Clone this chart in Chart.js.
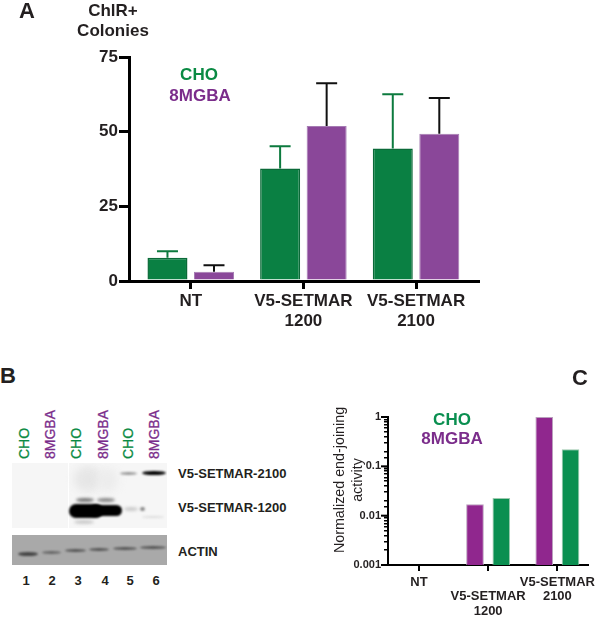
<!DOCTYPE html>
<html>
<head>
<meta charset="utf-8">
<script src="https://cdn.jsdelivr.net/npm/chart.js@4"></script>
<style>
  html, body { margin: 0; padding: 0; background: #fff; }
  #page { position: relative; width: 600px; height: 622px; overflow: hidden; font-family: "Liberation Sans", Arial, sans-serif; color: #231f20; }
  canvas { position: absolute; }
  .t { position: absolute; white-space: nowrap; line-height: 1; }
  .b { font-weight: bold; }
  .c { transform: translate(-50%, -50%); text-align: center; }
  .green { color: #0a8a43; }
  .purple { color: #7b2d8b; }
  .blot { position: absolute; overflow: hidden; }
  .band { position: absolute; border-radius: 50%; }
</style>
</head>
<body>
<div id="page">
  <canvas id="chartA"></canvas>
  <canvas id="chartC"></canvas>

  <div class="t b c" style="left:27px;top:11px;font-size:22px">A</div>
  <div class="t b c" style="left:8px;top:376px;font-size:22px">B</div>
  <div class="t b c" style="left:580px;top:378px;font-size:22px">C</div>

  <div class="t b c" style="left:113px;top:10px;font-size:17px">ChlR+</div>
  <div class="t b c" style="left:113px;top:30px;font-size:17px">Colonies</div>
  <div class="t b c green" style="left:199px;top:74px;font-size:17px">CHO</div>
  <div class="t b c purple" style="left:200px;top:95px;font-size:17px">8MGBA</div>

  <div class="t b c" style="left:452px;top:419px;font-size:17px;color:#0a8f50">CHO</div>
  <div class="t b c" style="left:452px;top:438px;font-size:17px;color:#7b2d8b">8MGBA</div>
  <div class="t c" style="left:339px;top:480px;font-size:14.3px;transform:translate(-50%,-50%) rotate(-90deg)">Normalized end-joining</div>
  <div class="t c" style="left:357px;top:480px;font-size:14.3px;transform:translate(-50%,-50%) rotate(-90deg)">activity</div>

  <div id="laneLabels"></div>

  <div class="blot" style="left:12px;top:463px;width:155px;height:65px;background:#f6f6f6">
    <div style="position:absolute;left:56px;top:0;width:1px;height:65px;background:#fff"></div>
    <div class="band" style="left:62px;top:3px;width:28px;height:26px;background:#e6e6e6;filter:blur(4px)"></div>
    <div class="band" style="left:86px;top:5px;width:20px;height:24px;background:#ececec;filter:blur(4px)"></div>
    <div class="band" style="left:57px;top:41px;width:34px;height:14px;background:#000;filter:blur(1.2px);border-radius:7px"></div>
    <div class="band" style="left:78px;top:42px;width:32px;height:11px;background:#000;filter:blur(1.2px);border-radius:6px"></div>
    <div class="band" style="left:64px;top:35px;width:18px;height:4px;background:#777;filter:blur(1.5px)"></div>
    <div class="band" style="left:85px;top:35px;width:18px;height:4px;background:#888;filter:blur(1.5px)"></div>
    <div class="band" style="left:108px;top:9px;width:17px;height:3px;background:#999;filter:blur(1px)"></div>
    <div class="band" style="left:130px;top:8px;width:24px;height:4px;background:#000;filter:blur(.8px)"></div>
    <div class="band" style="left:112px;top:44px;width:14px;height:4px;background:#ccc;filter:blur(1.5px)"></div>
    <div class="band" style="left:128px;top:44px;width:5px;height:4px;background:#888;filter:blur(1px)"></div>
    <div class="band" style="left:62px;top:57px;width:20px;height:4px;background:#ccc;filter:blur(1.5px)"></div>
    <div class="band" style="left:130px;top:53px;width:22px;height:2px;background:#ddd;filter:blur(1px)"></div>
  </div>
  <div class="blot" style="left:12px;top:535px;width:155px;height:30px;background:#a9a9a9">
    <div class="band" style="left:6px;top:17px;width:20px;height:4px;background:#444;filter:blur(1px)"></div>
    <div class="band" style="left:30px;top:16px;width:19px;height:3px;background:#666;filter:blur(1px)"></div>
    <div class="band" style="left:53px;top:14px;width:21px;height:3px;background:#555;filter:blur(1px)"></div>
    <div class="band" style="left:77px;top:13px;width:20px;height:3px;background:#555;filter:blur(1px)"></div>
    <div class="band" style="left:101px;top:12px;width:24px;height:3px;background:#555;filter:blur(1px)"></div>
    <div class="band" style="left:128px;top:11px;width:26px;height:3px;background:#555;filter:blur(1px)"></div>
  </div>

  <div class="t b" style="left:178px;top:467px;font-size:13px">V5-SETMAR-2100</div>
  <div class="t b" style="left:178px;top:501px;font-size:13px">V5-SETMAR-1200</div>
  <div class="t b" style="left:178px;top:545px;font-size:13px">ACTIN</div>
</div>

<script>
// panel A
const categoriesA = ['NT', ['V5-SETMAR', '1200'], ['V5-SETMAR', '2100']];
const choColonies = [7.8, 37.7, 44.4];
const choColoniesTop = [10, 45.1, 62.5];
const mgbaColonies = [3.1, 51.9, 49.3];
const mgbaColoniesTop = [5.3, 66.2, 61.3];
const ticksA = [0, 25, 50, 75];

// panel C, staggered labels in the original
const categoriesC = ['NT', ['', 'V5-SETMAR', '1200'], ['V5-SETMAR', '2100']];
const mgbaActivity = [null, 0.017, 1];
const choActivity = [null, 0.0228, 0.221];
const ticksC = [0.001, 0.01, 0.1, 1];

// panel B
const laneNames = ['CHO', '8MGBA', 'CHO', '8MGBA', 'CHO', '8MGBA'];
const laneNumbers = ['1', '2', '3', '4', '5', '6'];

const laneX = [24, 50, 76, 103, 128, 154];
const laneBox = document.getElementById('laneLabels');
laneNames.forEach(function(name, i) {
  const d = document.createElement('div');
  d.className = 't';
  d.textContent = name;
  d.style.fontSize = '14px';
  d.style.color = name === 'CHO' ? '#0a8a43' : '#7b2d8b';
  d.style.webkitTextStroke = '0.3px';
  d.style.left = laneX[i] + 'px';
  d.style.top = '459px';
  d.style.transformOrigin = '0 0';
  d.style.transform = 'rotate(-90deg) translateY(-50%)';
  laneBox.appendChild(d);
  const n = document.createElement('div');
  n.className = 't b c';
  n.textContent = laneNumbers[i];
  n.style.fontSize = '13px';
  n.style.left = (laneX[i] + 2) + 'px';
  n.style.top = '580px';
  laneBox.appendChild(n);
});

// error bars only go up, whisker colour follows the dataset
const errorBars = {
  id: 'errorBars',
  afterDatasetsDraw(chart) {
    const ctx = chart.ctx;
    const y = chart.scales.y;
    chart.data.datasets.forEach(function(ds, d) {
      if (!ds.tops) return;
      chart.getDatasetMeta(d).data.forEach(function(bar, i) {
        const top = y.getPixelForValue(ds.tops[i]);
        ctx.save();
        ctx.strokeStyle = ds.whisker;
        ctx.lineWidth = 2;
        ctx.beginPath();
        ctx.moveTo(bar.x, bar.y);
        ctx.lineTo(bar.x, top);
        ctx.moveTo(bar.x - 10.5, top);
        ctx.lineTo(bar.x + 10.5, top);
        ctx.stroke();
        ctx.restore();
      });
    });
  }
};

// decade ticks on the log axis stick out further than the minor ones
const longDecades = {
  id: 'longDecades',
  afterDraw(chart) {
    const ctx = chart.ctx;
    const y = chart.scales.y;
    ctx.save();
    ctx.strokeStyle = '#000';
    ctx.lineWidth = 2;
    ticksC.forEach(function(v) {
      const p = y.getPixelForValue(v);
      ctx.beginPath();
      ctx.moveTo(y.right, p);
      ctx.lineTo(y.right - 7, p);
      ctx.stroke();
    });
    ctx.restore();
  }
};

function xy(values) {
  return values.map(function(v, i) { return { x: i + 1, y: v }; });
}

function threeTicks(scale) {
  scale.ticks = [{ value: 1 }, { value: 2 }, { value: 3 }];
}

function sizeCanvas(id, left, top, w, h) {
  const c = document.getElementById(id);
  c.width = w;
  c.height = h;
  c.style.left = left + 'px';
  c.style.top = top + 'px';
  c.style.width = w + 'px';
  c.style.height = h + 'px';
  return c;
}

Chart.defaults.font.family = '"Liberation Sans", Arial, sans-serif';
Chart.defaults.color = '#231f20';

new Chart(sizeCanvas('chartA', 0, 0, 600, 340), {
  type: 'bar',
  data: {
    datasets: [
      { data: xy(choColonies), tops: choColoniesTop, whisker: '#0c7a3e', backgroundColor: '#0a8043', borderColor: '#0b6a38', borderWidth: 1.5, barPercentage: 0.86, categoryPercentage: 0.826 },
      { data: xy(mgbaColonies), tops: mgbaColoniesTop, whisker: '#111', backgroundColor: '#8a4799', borderColor: '#a57bb3', borderWidth: 1, barPercentage: 0.86, categoryPercentage: 0.826 }
    ]
  },
  plugins: [errorBars],
  options: {
    responsive: false,
    animation: false,
    layout: { padding: { left: 0, top: 57, right: 122, bottom: 0 } },
    plugins: { legend: { display: false }, tooltip: { enabled: false } },
    scales: {
      x: {
        type: 'linear',
        offset: false,
        min: 0.452,
        max: 3.55,
        afterBuildTicks: threeTicks,
        afterFit(scale) { scale.height = 59; },
        border: { color: '#000', width: 3 },
        grid: { display: true, offset: false, drawOnChartArea: false, color: '#000', lineWidth: 3, tickLength: 8 },
        ticks: {
          autoSkip: false,
          maxRotation: 0,
          padding: 2,
          color: '#231f20',
          font: { size: 17, weight: 'bold', lineHeight: 1.18 },
          callback(v, i) { return categoriesA[i]; }
        }
      },
      y: {
        min: 0,
        max: 75,
        afterBuildTicks(scale) { scale.ticks = ticksA.map(function(v) { return { value: v }; }); },
        afterFit(scale) { scale.width = 129; },
        border: { color: '#000', width: 3 },
        grid: { display: true, drawOnChartArea: false, color: '#000', lineWidth: 3, tickLength: 10 },
        ticks: { padding: 1, color: '#231f20', font: { size: 17, weight: 'bold' } }
      }
    }
  }
});

new Chart(sizeCanvas('chartC', 320, 360, 280, 262), {
  type: 'bar',
  data: {
    datasets: [
      { data: xy(mgbaActivity), backgroundColor: '#90278e', borderColor: '#b9a0bd', borderWidth: 1, barPercentage: 0.67, categoryPercentage: 0.76 },
      { data: xy(choActivity), backgroundColor: '#0a8f50', borderColor: '#9cc9ae', borderWidth: 1, barPercentage: 0.67, categoryPercentage: 0.76 }
    ]
  },
  plugins: [longDecades],
  options: {
    responsive: false,
    animation: false,
    layout: { padding: { left: 0, top: 57, right: 7, bottom: 0 } },
    plugins: { legend: { display: false }, tooltip: { enabled: false } },
    scales: {
      x: {
        type: 'linear',
        offset: false,
        min: 0.5535,
        max: 3.44,
        afterBuildTicks: threeTicks,
        afterFit(scale) { scale.height = 57; },
        border: { color: '#000', width: 2 },
        grid: { display: true, offset: false, drawOnChartArea: false, color: '#000', lineWidth: 2, tickLength: 6 },
        ticks: {
          autoSkip: false,
          maxRotation: 0,
          padding: 4,
          color: '#231f20',
          font: { size: 13, weight: 'bold', lineHeight: 1.12 },
          callback(v, i) { return categoriesC[i]; }
        }
      },
      y: {
        type: 'logarithmic',
        min: 0.001,
        max: 1,
        afterFit(scale) { scale.width = 68; },
        border: { color: '#000', width: 2 },
        grid: { display: true, drawOnChartArea: false, color: '#000', tickLength: 4, lineWidth: 1.5 },
        ticks: {
          autoSkip: false,
          padding: 3,
          color: '#231f20',
          font: { size: 11, weight: 'bold' },
          callback(v) { return ticksC.includes(v) ? String(v) : ''; }
        }
      }
    }
  }
});
</script>
</body>
</html>
